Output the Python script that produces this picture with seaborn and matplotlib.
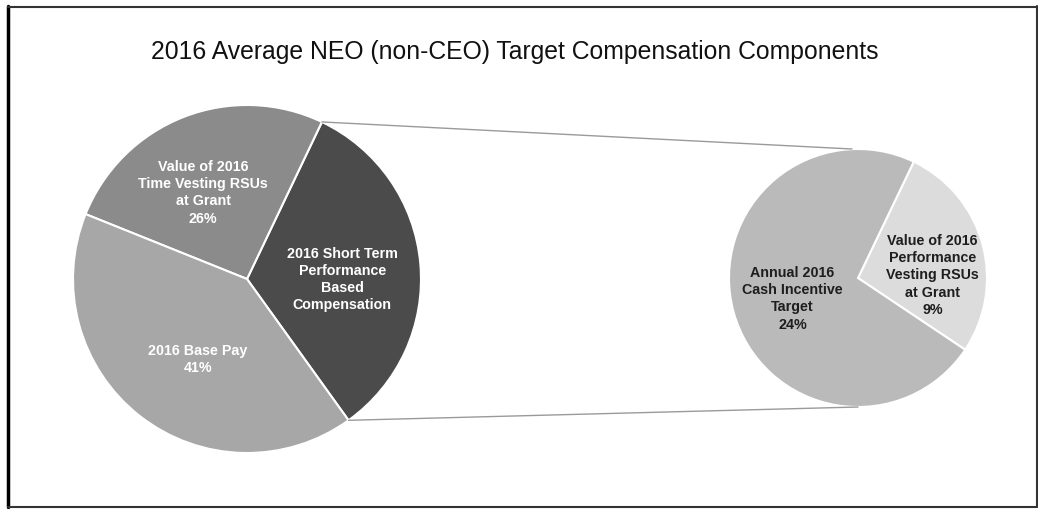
import numpy as np
import matplotlib
matplotlib.use("Agg")
import matplotlib.pyplot as plt
from matplotlib.lines import Line2D
import seaborn as sns

# Data
main_labels = ["2016 Short Term\nPerformance\nBased\nCompensation",
               "Value of 2016\nTime Vesting RSUs\nat Grant",
               "2016 Base Pay"]
main_values = [33, 26, 41]
main_show_pct = [False, True, True]

sub_labels = ["Value of 2016\nPerformance\nVesting RSUs\nat Grant",
              "Annual 2016\nCash Incentive\nTarget"]
sub_values = [9, 24]

main_colors = ["#4b4b4b", "#8b8b8b", "#a7a7a7"]
sub_colors = ["#dcdcdc", "#bababa"]

title = "2016 Average NEO (non-CEO) Target Compensation Components"

# small nudges (pixels) for label placement
main_nudge = [(0, -9), (-9, -3), (10, -5)]
sub_nudge = [(6, -16), (3, -2)]

sns.set_theme(style="white")
plt.rcParams['font.family'] = ['Liberation Sans', 'DejaVu Sans']

W, H = 1038, 509
fig = plt.figure(figsize=(W / 100, H / 100), dpi=100)
ax = fig.add_axes([0, 0, 1, 1])

main_c, main_r = (247, 230), 174
sub_c, sub_r = (858, 231), 129
wp = dict(edgecolor="white", linewidth=1.5)

mw, _ = ax.pie(main_values, colors=main_colors, startangle=-54.3,
               center=main_c, radius=main_r, wedgeprops=wp)
sw, _ = ax.pie(sub_values, colors=sub_colors, startangle=-33.8,
               center=sub_c, radius=sub_r, wedgeprops=wp)


def put_labels(wedges, labels, values, show, nudge, c, r, color, frac):
    for w, lab, v, s, (dx, dy) in zip(wedges, labels, values, show, nudge):
        mid = np.deg2rad((w.theta1 + w.theta2) / 2)
        x = c[0] + frac * r * np.cos(mid) + dx
        y = c[1] + frac * r * np.sin(mid) + dy
        txt = lab + ("\n%d%%" % v if s else "")
        ax.text(x, y, txt, ha="center", va="center", color=color,
                fontsize=10.3, fontweight="bold", linespacing=1.3)


put_labels(mw, main_labels, main_values, main_show_pct, main_nudge,
           main_c, main_r, "white", 0.55)
put_labels(sw, sub_labels, sub_values, [True, True], sub_nudge,
           sub_c, sub_r, "#1e1e1e", 0.55)

# connector lines from the short-term wedge to the breakdown pie
w = mw[0]
t1, t2 = np.deg2rad(w.theta1), np.deg2rad(w.theta2)
p_top = (main_c[0] + main_r * np.cos(t2), main_c[1] + main_r * np.sin(t2))
p_bot = (main_c[0] + main_r * np.cos(t1), main_c[1] + main_r * np.sin(t1))
ax.plot([p_top[0], sub_c[0] - 6], [p_top[1], sub_c[1] + sub_r], color="#9a9a9a", lw=1)
ax.plot([p_bot[0], sub_c[0]], [p_bot[1], sub_c[1] - sub_r], color="#9a9a9a", lw=1)

ax.set_xlim(0, W)
ax.set_ylim(0, H)
ax.set_aspect("equal")
ax.axis("off")

fig.text(0.496, 1 - 52 / H, title, ha="center", va="center", fontsize=17.8, color="#111111")

# outer frame
def fl(x, y, **kw):
    fig.add_artist(Line2D([v / W for v in x], [1 - v / H for v in y],
                          transform=fig.transFigure, **kw))

fl([8, 8], [6, 507], color="black", lw=2.5)
fl([8, 1037], [6.5, 6.5], color="#333333", lw=1.5)
fl([8, 1037], [507, 507], color="#333333", lw=1.5)
fl([1036.5, 1036.5], [6, 507], color="#333333", lw=1.5)

fig.savefig("out.png", dpi=100)
